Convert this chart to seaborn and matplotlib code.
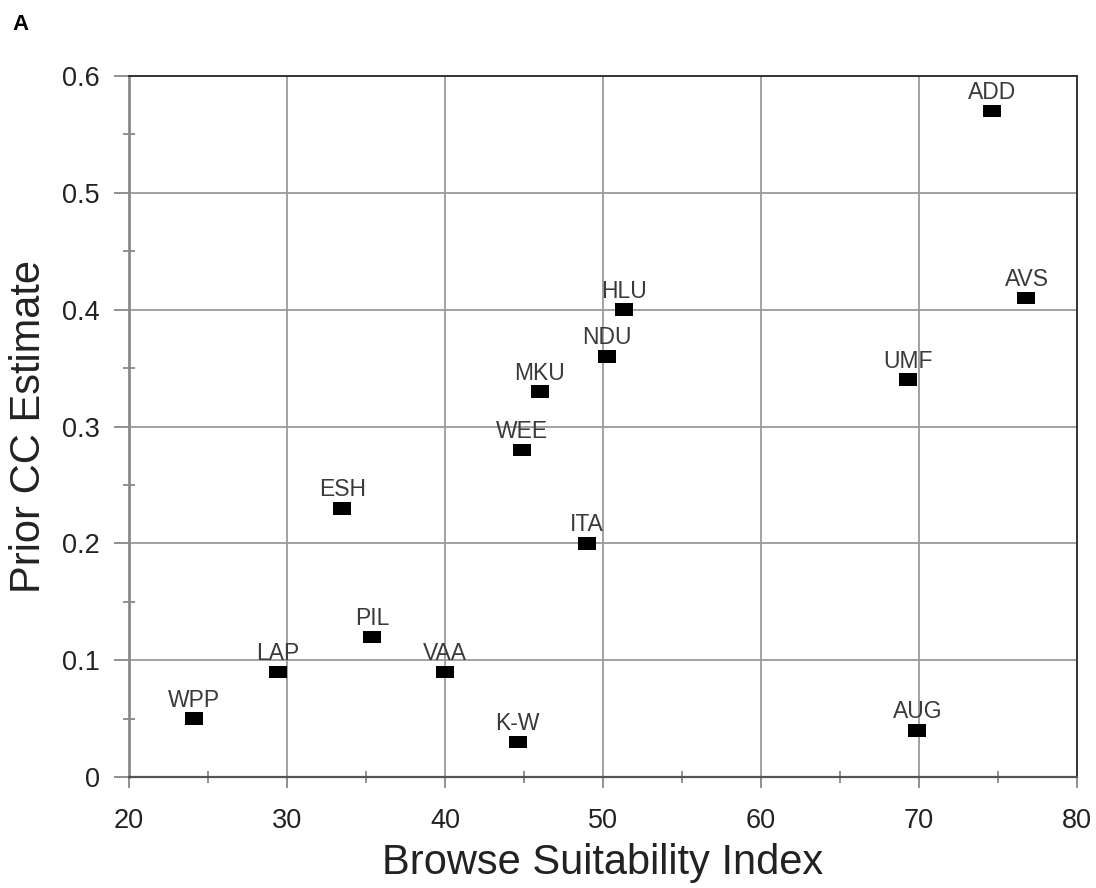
import matplotlib
matplotlib.use("Agg")
import matplotlib.pyplot as plt
from matplotlib.path import Path
from matplotlib.ticker import MultipleLocator
import seaborn as sns
import pandas as pd

# Site codes with their browse suitability index and prior CC estimate
sites = ["WPP", "LAP", "PIL", "VAA", "K-W", "ESH", "WEE", "MKU", "ITA",
         "NDU", "HLU", "UMF", "AUG", "ADD", "AVS"]
browse_index = [24.1, 29.4, 35.4, 40.0, 44.6, 33.5, 44.9, 46.0, 49.0,
                50.25, 51.3, 69.3, 69.9, 74.6, 76.8]
prior_cc = [0.05, 0.09, 0.12, 0.09, 0.03, 0.23, 0.28, 0.33, 0.20,
            0.36, 0.40, 0.34, 0.04, 0.57, 0.41]

x_ticks = [20, 30, 40, 50, 60, 70, 80]
y_ticks = [0, 0.1, 0.2, 0.3, 0.4, 0.5, 0.6]
y_tick_labels = ["0", "0.1", "0.2", "0.3", "0.4", "0.5", "0.6"]

df = pd.DataFrame({"site": sites, "bsi": browse_index, "cc": prior_cc})

sns.set_theme(style="white")
plt.rcParams["font.family"] = ["Liberation Sans", "DejaVu Sans"]

fig = plt.figure(figsize=(10.96, 8.88), dpi=100)
ax = fig.add_axes([0.1177, 0.125, 0.8650, 0.7894])

# Flat rectangular marker
rect = Path([(-0.5, -0.35), (0.5, -0.35), (0.5, 0.35), (-0.5, 0.35), (-0.5, -0.35)],
            [Path.MOVETO, Path.LINETO, Path.LINETO, Path.LINETO, Path.CLOSEPOLY])

sns.scatterplot(data=df, x="bsi", y="cc", marker=rect, s=168, color="black",
                edgecolor="none", linewidth=0, ax=ax, zorder=3, legend=False)

for name, xv, yv in zip(sites, browse_index, prior_cc):
    ax.annotate(name, (xv, yv), xytext=(0, 8.6), textcoords="offset points",
                ha="center", va="baseline", fontsize=16.5, color="#3a3a3a",
                zorder=4)

ax.set_xlim(20, 80)
ax.set_ylim(0, 0.6)
ax.set_xticks(x_ticks)
ax.set_yticks(y_ticks)
ax.set_yticklabels(y_tick_labels)
ax.xaxis.set_minor_locator(MultipleLocator(5))
ax.yaxis.set_minor_locator(MultipleLocator(0.05))

ax.grid(True, which="major", color="#9a9a9a", linewidth=1.3)
ax.set_axisbelow(True)

ax.tick_params(axis="both", which="major", direction="out", length=8,
               width=1.3, color="#888888", labelsize=19.5, labelcolor="#222222")
ax.tick_params(axis="x", which="major", pad=14)
ax.tick_params(axis="y", which="major", pad=10, length=11)
ax.tick_params(axis="both", which="minor", direction="inout", length=9,
               width=1.3, color="#888888")
ax.tick_params(bottom=True, left=True, which="both")

for side in ["top", "right"]:
    ax.spines[side].set_color("#333333")
    ax.spines[side].set_linewidth(1.4)
ax.spines["bottom"].set_color("#555555")
ax.spines["bottom"].set_linewidth(1.6)
ax.spines["left"].set_color("#8a8a8a")
ax.spines["left"].set_linewidth(2.0)

ax.set_xlabel("Browse Suitability Index", fontsize=30, color="#222222", labelpad=7)
ax.set_ylabel("Prior CC Estimate", fontsize=30, color="#222222", labelpad=9)

fig.text(0.011, 1 - 30 / 888, "A", fontsize=16, fontweight="bold",
         color="black", ha="left", va="baseline")

fig.savefig("out.png", dpi=100, facecolor="white")
